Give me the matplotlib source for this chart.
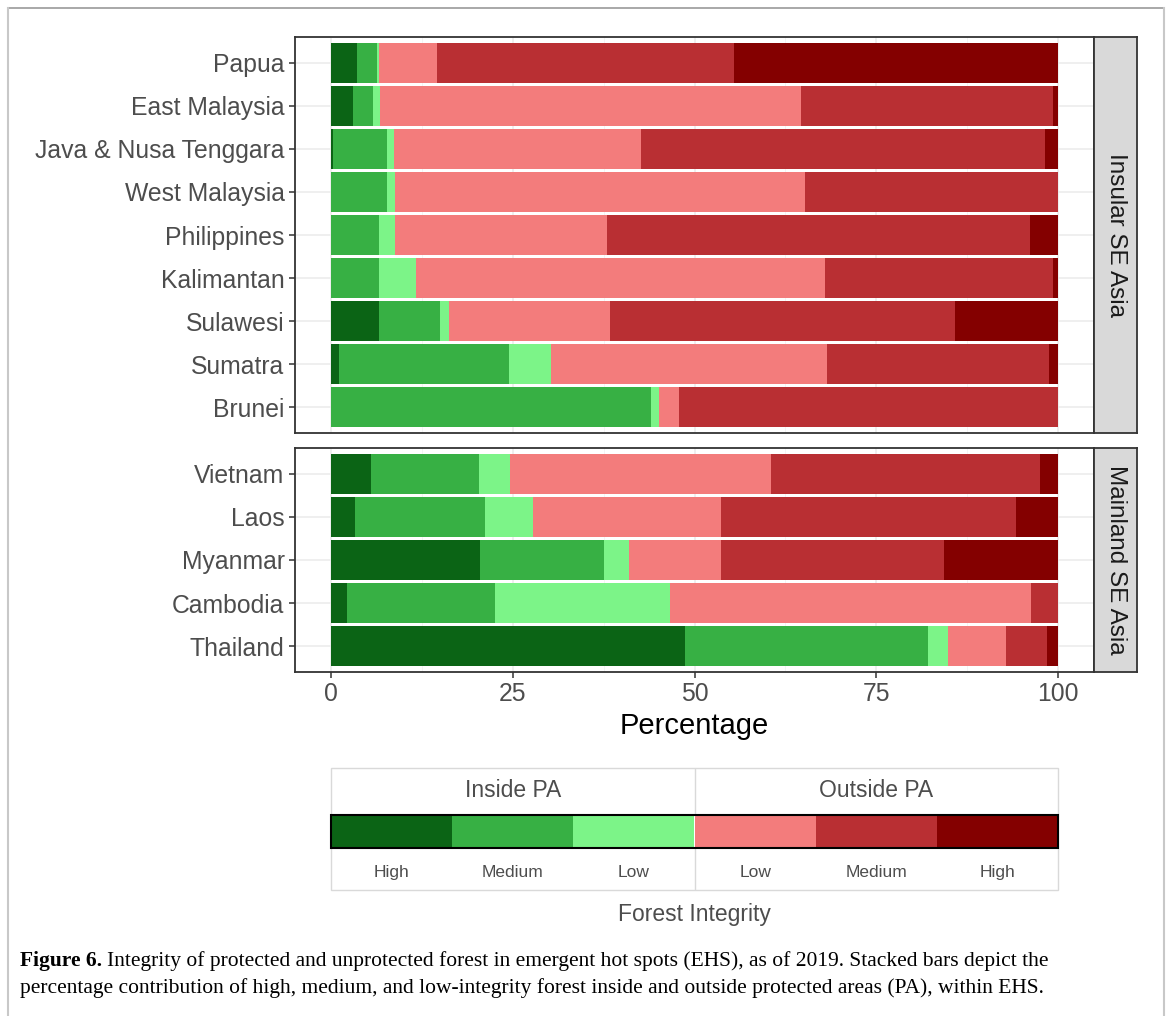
import matplotlib.pyplot as plt
from matplotlib.patches import Rectangle
from matplotlib.lines import Line2D

plt.rcParams['font.family'] = ['Liberation Sans', 'DejaVu Sans']

# regions, top to bottom
insular = ["Papua", "East Malaysia", "Java & Nusa Tenggara", "West Malaysia",
           "Philippines", "Kalimantan", "Sulawesi", "Sumatra", "Brunei"]
mainland = ["Vietnam", "Laos", "Myanmar", "Cambodia", "Thailand"]

# percentages per integrity class (insular rows first, then mainland rows)
in_high = [3.5, 3.0, 0.3, 0.0, 0.0, 0.0, 6.6, 1.0, 0.0,
           5.5, 3.3, 20.5, 2.1, 48.7]
in_medium = [2.8, 2.7, 7.3, 7.6, 6.6, 6.5, 8.4, 23.5, 44.0,
             14.9, 17.9, 17.0, 20.4, 33.5]
in_low = [0.2, 1.0, 1.0, 1.2, 2.2, 5.2, 1.2, 5.8, 1.1,
          4.2, 6.6, 3.5, 24.1, 2.7]
out_low = [8.1, 58.0, 34.1, 56.4, 29.1, 56.2, 22.1, 37.9, 2.7,
           35.9, 25.8, 12.6, 49.7, 8.0]
out_medium = [40.9, 34.7, 55.6, 34.8, 58.3, 31.5, 47.6, 30.6, 52.2,
              37.0, 40.7, 30.8, 3.7, 5.6]
out_high = [44.5, 0.6, 1.7, 0.0, 3.8, 0.6, 14.1, 1.2, 0.0,
            2.5, 5.7, 15.6, 0.0, 1.5]

classes = ["High", "Medium", "Low", "Low", "Medium", "High"]
colors = ["#0B6415", "#37B044", "#7CF488", "#F37C7C", "#B92F33", "#840000"]
series = [in_high, in_medium, in_low, out_low, out_medium, out_high]

W, H = 1168, 1016
fig = plt.figure(figsize=(W / 100, H / 100), dpi=100)


def px(x0, y0, x1, y1):
    return [x0 / W, 1 - y1 / H, (x1 - x0) / W, (y1 - y0) / H]


grey_txt = "#4D4D4D"
panels = [(insular, 0, "Insular SE Asia", 37, 433),
          (mainland, len(insular), "Mainland SE Asia", 448, 672)]

for names, off, strip, y0, y1 in panels:
    ax = fig.add_axes(px(295, y0, 1094, y1))
    n = len(names)
    pos = list(range(n))
    left = [0.0] * n
    for vals, c in zip(series, colors):
        v = vals[off:off + n]
        ax.barh(pos, v, left=left, height=0.92, color=c, edgecolor="none", zorder=3)
        left = [a + b for a, b in zip(left, v)]
    ax.set_xlim(-5, 105)
    ax.set_ylim(n - 0.4, -0.6)
    ax.set_yticks(pos)
    ax.set_yticklabels(names)
    ax.set_xticks([0, 25, 50, 75, 100])
    ax.set_xticks([12.5, 37.5, 62.5, 87.5], minor=True)
    ax.grid(which="major", color="#EBEBEB", lw=1.1, zorder=0)
    ax.grid(which="minor", axis="x", color="#F2F2F2", lw=0.6, zorder=0)
    ax.tick_params(axis="both", which="major", color="#333333", length=4.5,
                   width=1.1, labelsize=17.8, labelcolor=grey_txt, pad=3)
    ax.tick_params(axis="x", which="minor", length=0)
    for s in ax.spines.values():
        s.set_color("#333333")
        s.set_linewidth(1.3)
    if off == 0:
        ax.tick_params(axis="x", which="major", length=0, labelbottom=False)
    else:
        ax.set_xticklabels(["0", "25", "50", "75", "100"])
        ax.set_xlabel("Percentage", fontsize=21, color="black", labelpad=4)

    sx = fig.add_axes(px(1094, y0, 1137, y1))
    sx.set_facecolor("#D9D9D9")
    sx.set_xticks([])
    sx.set_yticks([])
    for s in sx.spines.values():
        s.set_color("#333333")
        s.set_linewidth(1.3)
    sx.text(0.5, 0.5, strip, rotation=-90, ha="center", va="center",
            fontsize=17.5, color="#1A1A1A", transform=sx.transAxes)

# legend
lg = fig.add_axes(px(331, 768, 1058, 890))
lg.set_xlim(0, 6)
lg.set_ylim(0, 1)
lg.axis("off")
bar_lo, bar_hi = (890 - 848) / 122, (890 - 815) / 122
lg.barh([(bar_lo + bar_hi) / 2] * 6, [1] * 6, left=range(6), height=bar_hi - bar_lo,
        color=colors, edgecolor="none", zorder=2)
lg.add_patch(Rectangle((0, bar_lo), 6, bar_hi - bar_lo, fill=False,
                       edgecolor="black", lw=1.5, zorder=3, clip_on=False))
lg.add_patch(Rectangle((0, 0), 6, 1, fill=False, edgecolor="#D9D9D9", lw=1.0,
                       clip_on=False))
lg.add_line(Line2D([3, 3], [bar_hi, 1], color="#D9D9D9", lw=1.0))
lg.add_line(Line2D([3, 3], [0, bar_lo], color="#D9D9D9", lw=1.0))
lg.text(1.5, (890 - 797) / 122, "Inside PA", ha="center", va="baseline",
        fontsize=16.5, color=grey_txt)
lg.text(4.5, (890 - 797) / 122, "Outside PA", ha="center", va="baseline",
        fontsize=16.5, color=grey_txt)
for i, lab in enumerate(classes):
    lg.text(i + 0.5, (890 - 877) / 122, lab, ha="center", va="baseline",
            fontsize=12.5, color=grey_txt)
fig.text(694 / W, 1 - 914 / H, "Forest Integrity", ha="center", va="center",
         fontsize=16.5, color=grey_txt)

# caption
cap1 = ("Integrity of protected and unprotected forest in emergent hot spots (EHS), "
        "as of 2019. Stacked bars depict the")
cap2 = ("percentage contribution of high, medium, and low-integrity forest inside "
        "and outside protected areas (PA), within EHS.")
t = fig.text(20 / W, 1 - 961 / H, "Figure 6.", fontsize=15.5, fontweight="bold",
             family="Liberation Serif", va="center", ha="left")
fig.canvas.draw()
bb = t.get_window_extent()
fig.text((bb.x1 + 5) / W, 1 - 961 / H, cap1, fontsize=15.5,
         family="Liberation Serif", va="center", ha="left")
fig.text(20 / W, 1 - 988 / H, cap2, fontsize=15.5,
         family="Liberation Serif", va="center", ha="left")

# outer frame of the figure box
fig.add_artist(Line2D([8 / W, 1164 / W], [1 - 8 / H, 1 - 8 / H], color="#999999", lw=1.2))
fig.add_artist(Line2D([8 / W, 8 / W], [0, 1 - 8 / H], color="#C8C8C8", lw=1.5))
fig.add_artist(Line2D([1164 / W, 1164 / W], [0, 1 - 8 / H], color="#C8C8C8", lw=1.5))

fig.savefig("out.png", dpi=100)
